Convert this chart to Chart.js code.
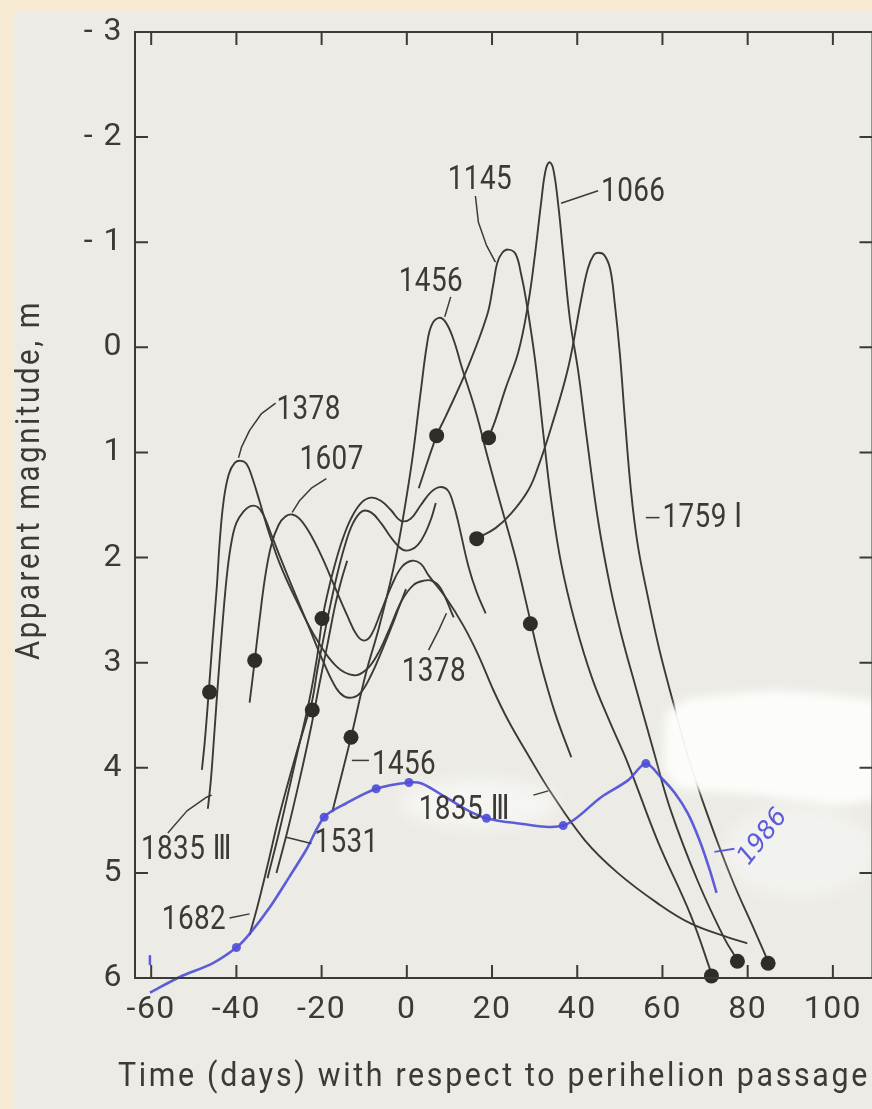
<!DOCTYPE html>
<html>
<head>
<meta charset="utf-8">
<script src="https://cdn.jsdelivr.net/npm/chart.js@4.4.1/dist/chart.umd.min.js"></script>
<style>
html, body { margin: 0; padding: 0; overflow: hidden; background: #f6ebd2; }
#paper { position: absolute; left: 14px; top: 12px; width: 880px; height: 1110px; background: #ecebe5; }
#wrap { position: absolute; left: 0; top: 0; width: 880px; height: 1109px; }
</style>
</head>
<body>
<div id="paper"></div>
<div id="wrap"><canvas id="myChart" width="880" height="1109"></canvas></div>
<script>
// days from perihelion, apparent magnitude
var xTicks = [-60, -40, -20, 0, 20, 40, 60, 80, 100];
var yTicks = [-3, -2, -1, 0, 1, 2, 3, 4, 5, 6];
var yTickLabels = ['- 3', '- 2', '- 1', '0', '1', '2', '3', '4', '5', '6'];

var curve1066 = [[19.2,0.86],[20.8,0.69],[23.1,0.40],[26.2,0.04],[28.5,-0.42],[30.1,-0.89],[31.5,-1.37],[32.5,-1.67],[33.4,-1.76],[34.3,-1.71],[35.5,-1.37],[36.7,-0.89],[38.3,-0.26],[40.2,0.22],[42.1,0.82],[44.9,1.65],[47.9,2.31],[50.7,2.79],[53.5,3.20],[58.2,3.88],[61.9,4.40],[68.2,5.07],[74.5,5.62],[77.6,5.83]];
var curve1145 = [[2.8,1.34],[7.0,0.84],[9.1,0.66],[14.0,0.22],[18.8,-0.30],[20.3,-0.60],[21.2,-0.80],[22.4,-0.90],[23.8,-0.93],[25.5,-0.89],[26.8,-0.70],[28.0,-0.45],[30.1,0.12],[32.2,0.88],[33.9,1.46],[36.2,2.05],[39.5,2.62],[43.5,3.15],[47.5,3.55],[51.9,3.96],[58.9,4.70],[66.6,5.40],[71.7,5.98]];
var curve1759 = [[16.4,1.82],[20.8,1.72],[24.5,1.58],[28.5,1.36],[30.8,1.14],[33.9,0.76],[37.9,0.19],[40.9,-0.45],[42.5,-0.75],[43.9,-0.88],[44.9,-0.90],[46.3,-0.88],[47.7,-0.75],[48.8,-0.42],[50.0,0.06],[51.2,0.69],[52.6,1.36],[54.2,1.88],[56.5,2.36],[59.3,2.88],[62.4,3.36],[65.9,3.88],[70.6,4.45],[76.4,5.07],[81.1,5.50],[85.0,5.86]];
var curve1456 = [[-17.5,4.42],[-13.1,3.71],[-9.6,3.10],[-6.5,2.66],[-2.6,2.00],[0.9,1.17],[3.3,0.41],[4.7,-0.02],[5.8,-0.21],[7.5,-0.28],[9.1,-0.24],[11.0,-0.07],[12.9,0.19],[16.1,0.60],[19.2,1.08],[22.2,1.52],[25.5,2.00],[29.0,2.60],[31.5,3.02],[34.8,3.48],[38.6,3.90]];
var curve1378 = [[-48.1,4.02],[-47.4,3.74],[-46.5,3.28],[-45.6,2.79],[-44.6,2.28],[-43.9,1.84],[-43.0,1.46],[-41.8,1.21],[-40.4,1.10],[-39.0,1.08],[-37.6,1.11],[-36.2,1.25],[-34.6,1.46],[-32.7,1.72],[-29.9,2.05],[-25.9,2.41],[-21.0,2.79],[-16.4,3.04],[-12.4,3.12],[-9.6,3.07],[-7.0,2.93],[-4.2,2.69],[-1.2,2.41],[1.6,2.26],[4.0,2.22],[5.8,2.22],[7.9,2.29],[11.0,2.57]];
var curve1835 = [[-46.7,4.39],[-46.0,4.12],[-45.3,3.74],[-44.4,3.23],[-43.2,2.60],[-42.1,2.12],[-41.1,1.84],[-40.0,1.67],[-38.3,1.56],[-36.7,1.51],[-35.0,1.52],[-33.6,1.60],[-32.2,1.74],[-29.9,1.98],[-27.1,2.26],[-22.9,2.67],[-19.4,3.01],[-16.6,3.24],[-14.7,3.32],[-12.6,3.33],[-10.7,3.28],[-8.4,3.12],[-5.8,2.88],[-3.5,2.65],[-1.9,2.48],[-0.2,2.30]];
var curve1607 = [[-36.9,3.38],[-35.7,2.98],[-34.6,2.60],[-33.2,2.17],[-31.8,1.88],[-30.1,1.69],[-28.5,1.61],[-26.9,1.59],[-25.2,1.63],[-22.9,1.76],[-20.1,1.98],[-17.1,2.26],[-14.0,2.55],[-11.7,2.74],[-10.0,2.79],[-8.4,2.74],[-6.1,2.52],[-3.5,2.26],[-1.2,2.09],[1.2,2.03],[3.3,2.06],[5.1,2.17],[9.3,2.39],[13.3,2.65],[16.8,2.93],[20.3,3.26],[23.8,3.55],[28.5,3.88],[33.9,4.24],[41.8,4.69],[49.5,5.00],[58.9,5.29],[66.6,5.48],[75.9,5.62],[79.9,5.67]];
var curve1531 = [[-32.7,5.05],[-29.9,4.60],[-26.4,3.98],[-22.9,3.36],[-21.0,2.93],[-19.9,2.60],[-18.7,2.36],[-17.1,2.10],[-15.2,1.84],[-13.1,1.63],[-10.7,1.48],[-8.4,1.43],[-6.1,1.46],[-3.7,1.55],[-1.4,1.65],[0.9,1.63],[3.3,1.50],[5.6,1.38],[7.7,1.33],[9.6,1.36],[11.0,1.50],[12.1,1.67],[14.5,2.09],[16.4,2.33],[18.5,2.53]];
var curve1531b = [[-30.6,5.00],[-28.0,4.60],[-25.2,4.12],[-22.4,3.60],[-20.6,3.22],[-18.7,2.84],[-16.8,2.45],[-15.4,2.22],[-14.0,2.03]];
var curve1682 = [[-36.9,5.59],[-35.0,5.31],[-32.7,4.93],[-29.9,4.45],[-26.4,3.93],[-23.6,3.55],[-22.2,3.36],[-21.0,3.07],[-19.9,2.84],[-18.2,2.50],[-16.4,2.17],[-14.5,1.88],[-12.6,1.67],[-10.5,1.56],[-8.4,1.57],[-6.1,1.67],[-3.5,1.82],[-1.2,1.92],[0.7,1.93],[2.6,1.88],[4.4,1.76],[5.8,1.62],[6.8,1.48]];
var curve1986 = [[-60.3,6.14],[-53.3,5.99],[-45.6,5.86],[-40.0,5.71],[-36.9,5.58],[-32.2,5.33],[-27.6,5.04],[-23.6,4.78],[-19.4,4.47],[-14.3,4.34],[-7.2,4.20],[0.5,4.14],[3.5,4.15],[9.1,4.28],[14.5,4.41],[18.7,4.48],[24.5,4.52],[36.7,4.55],[45.6,4.28],[51.9,4.12],[56.1,3.96],[59.6,4.09],[62.9,4.24],[65.9,4.43],[68.7,4.69],[71.0,4.96],[72.7,5.19]];

var dots = [[-46.3,3.28],[-35.7,2.98],[-19.9,2.58],[-22.2,3.45],[-13.1,3.71],[7.0,0.84],[19.2,0.86],[16.4,1.82],[29.0,2.63],[71.5,5.98],[77.6,5.84],[84.8,5.86]];
var dots1986 = [[-60.3,6.14],[-40.0,5.71],[-19.4,4.47],[-7.2,4.20],[0.5,4.14],[18.7,4.48],[36.7,4.55],[56.1,3.96]];
var mark1986 = [[-60.3,5.83]];

// curve names written on the figure, anchored in data units
var notes = [
    {text: '1145', day: 9.6, mag: -1.59},
    {text: '1066', day: 45.6, mag: -1.47},
    {text: '1456', day: -1.9, mag: -0.62},
    {text: '1378', day: -30.6, mag: 0.60},
    {text: '1607', day: -25.2, mag: 1.08},
    {text: '1378', day: -1.2, mag: 3.09},
    {text: '1759 Ⅰ', day: 60.0, mag: 1.63},
    {text: '1835 Ⅲ', day: -62.4, mag: 4.79},
    {text: '1531', day: -21.7, mag: 4.72},
    {text: '1682', day: -57.5, mag: 5.45},
    {text: '1456', day: -8.2, mag: 3.98},
    {text: '1835 Ⅲ', day: 2.8, mag: 4.41}
];
var leaders = [
    [[16.1,-1.44],[16.8,-1.19],[18.7,-0.97],[20.8,-0.81]],
    [[36.2,-1.37],[44.9,-1.49]],
    [[10.3,-0.48],[8.9,-0.29]],
    [[-30.8,0.53],[-34.1,0.63],[-36.9,0.79],[-38.8,0.95],[-39.5,1.05]],
    [[-18.9,1.25],[-22.4,1.34],[-25.2,1.46],[-26.9,1.57]],
    [[5.1,2.88],[7.5,2.69],[9.3,2.53]],
    [[56.1,1.62],[59.3,1.62]],
    [[-56.1,4.62],[-51.6,4.41],[-47.0,4.28],[-45.8,4.26]],
    [[-28.3,4.66],[-22.4,4.72]],
    [[-41.6,5.43],[-36.9,5.39]],
    [[-12.9,3.93],[-8.9,3.93]],
    [[29.7,4.26],[33.2,4.22]]
];
var blueLeader = [[72.2,4.80],[76.9,4.77]];

// white correction fluid on the scan
var whiteOut = [[60.7,3.47],[65.9,3.34],[75.2,3.30],[86.9,3.26],[98.6,3.30],[110.3,3.36],[110.3,4.31],[100.9,4.36],[91.6,4.31],[82.2,4.26],[72.9,4.23],[63.6,4.20],[60.3,4.02]];
var smudges = [
    {day: 92.0, mag: 4.80, dw: 18.0, dm: 0.45, a: 0.35},
    {day: 16.8, mag: 4.34, dw: 18.7, dm: 0.24, a: 0.5}
];

var ink = '#3b3a36';
var blue = 'rgba(78,76,214,0.9)';
var fam = "Roboto, 'DejaVu Sans', sans-serif";

function xy(pts) {
    return pts.map(function (p) { return {x: p[0], y: p[1]}; });
}

function blackCurve(name, pts) {
    return {label: name, data: xy(pts), showLine: true, borderColor: ink, borderWidth: 1.9,
        pointRadius: 0, tension: 0.4, order: 5};
}

// narrow lettering: squeeze text horizontally to the stencil look of the figure
function letter(ctx, str, px, py, size, sx, spacing) {
    ctx.save();
    ctx.font = size + 'px ' + fam;
    ctx.letterSpacing = spacing + 'px';
    ctx.textAlign = 'left';
    ctx.textBaseline = 'middle';
    ctx.translate(px, py);
    ctx.scale(sx, 1);
    ctx.fillText(str, 0, 0);
    ctx.restore();
}

function fitLetter(ctx, str, px, py, size, spacing, len, angle) {
    ctx.save();
    ctx.font = size + 'px ' + fam;
    ctx.letterSpacing = spacing + 'px';
    var sx = len / ctx.measureText(str).width;
    ctx.textAlign = 'left';
    ctx.textBaseline = 'middle';
    ctx.translate(px, py);
    ctx.rotate(angle);
    ctx.scale(sx, 1);
    ctx.fillText(str, 0, 0);
    ctx.restore();
}

var scanPlugin = {
    id: 'scan',
    beforeUpdate: function (chart) { chart.ctx.letterSpacing = '1.5px'; },
    beforeDraw: function (chart) { chart.ctx.letterSpacing = '1.5px'; },
    beforeDatasetDraw: function (chart, args) {
        if (chart.data.datasets[args.index].label !== '1986') return;
        var ctx = chart.ctx, x = chart.scales.x, y = chart.scales.y;
        ctx.save();
        ctx.filter = 'blur(8px)';
        smudges.forEach(function (e) {
            var cx = x.getPixelForValue(e.day), cy = y.getPixelForValue(e.mag);
            var rx = Math.abs(x.getPixelForValue(e.day + e.dw) - cx);
            var ry = Math.abs(y.getPixelForValue(e.mag + e.dm) - cy);
            ctx.fillStyle = 'rgba(255,255,255,' + e.a + ')';
            ctx.beginPath();
            ctx.ellipse(cx, cy, rx, ry, 0, 0, Math.PI * 2);
            ctx.fill();
        });
        ctx.filter = 'blur(5px)';
        ctx.fillStyle = 'rgba(253,253,251,0.95)';
        ctx.beginPath();
        whiteOut.forEach(function (p, i) {
            var px = x.getPixelForValue(p[0]), py = y.getPixelForValue(p[1]);
            if (i === 0) ctx.moveTo(px, py); else ctx.lineTo(px, py);
        });
        ctx.closePath();
        ctx.fill();
        ctx.restore();
    },
    afterDatasetsDraw: function (chart) {
        var ctx = chart.ctx, x = chart.scales.x, y = chart.scales.y, a = chart.chartArea;
        ctx.save();
        ctx.strokeStyle = ink;
        ctx.lineWidth = 2;
        ctx.strokeRect(a.left, a.top, a.right - a.left, a.bottom - a.top);
        // inward ticks on all four sides
        ctx.beginPath();
        yTicks.forEach(function (v) {
            var p = y.getPixelForValue(v);
            ctx.moveTo(a.left, p); ctx.lineTo(a.left + 13, p);
            ctx.moveTo(a.right - 13, p); ctx.lineTo(a.right, p);
        });
        xTicks.forEach(function (v) {
            var p = x.getPixelForValue(v);
            ctx.moveTo(p, a.top); ctx.lineTo(p, a.top + 13);
            ctx.moveTo(p, a.bottom - 13); ctx.lineTo(p, a.bottom);
        });
        ctx.stroke();

        ctx.lineWidth = 1.5;
        ctx.lineJoin = 'round';
        leaders.forEach(function (l) {
            ctx.beginPath();
            l.forEach(function (p, i) {
                var px = x.getPixelForValue(p[0]), py = y.getPixelForValue(p[1]);
                if (i === 0) ctx.moveTo(px, py); else ctx.lineTo(px, py);
            });
            ctx.stroke();
        });

        ctx.fillStyle = ink;
        notes.forEach(function (n) {
            letter(ctx, n.text, x.getPixelForValue(n.day), y.getPixelForValue(n.mag), 34, 0.82, 0.5);
        });

        fitLetter(ctx, 'Time (days) with respect to perihelion passage', 118, 1077, 34, 3, 752, 0);
        fitLetter(ctx, 'Apparent magnitude, m', 31, 660, 33, 3, 360, -Math.PI / 2);

        // pen annotation for the 1986 apparition
        ctx.strokeStyle = blue;
        ctx.lineWidth = 2;
        ctx.beginPath();
        ctx.moveTo(x.getPixelForValue(blueLeader[0][0]), y.getPixelForValue(blueLeader[0][1]));
        ctx.lineTo(x.getPixelForValue(blueLeader[1][0]), y.getPixelForValue(blueLeader[1][1]));
        ctx.stroke();
        ctx.fillStyle = blue;
        ctx.letterSpacing = '0px';
        ctx.font = 'italic 25px "DejaVu Sans"';
        ctx.translate(x.getPixelForValue(83.6), y.getPixelForValue(4.66));
        ctx.rotate(-52 * Math.PI / 180);
        ctx.textAlign = 'center';
        ctx.textBaseline = 'middle';
        ctx.fillText('1986', 0, 0);
        ctx.restore();
    }
};

var ctx = document.getElementById('myChart').getContext('2d');
var myChart = new Chart(ctx, {
    type: 'scatter',
    data: {
        datasets: [
            {label: '1986', data: xy(curve1986), showLine: true, borderColor: blue, borderWidth: 2.6,
                pointRadius: 0, tension: 0.3, clip: false, order: 2},
            {label: '1986 points', data: xy(dots1986), pointRadius: 4.5, pointBackgroundColor: blue,
                pointBorderWidth: 0, clip: false, order: 1},
            {label: '1986 mark', data: xy(mark1986), pointStyle: 'line', rotation: 90, pointRadius: 5,
                pointBorderColor: blue, pointBorderWidth: 2.5, clip: false, order: 1},
            {label: 'observations', data: xy(dots), pointRadius: 7.5, pointBackgroundColor: '#2f2d2a',
                pointBorderWidth: 0, clip: false, order: 4},
            blackCurve('1066', curve1066),
            blackCurve('1145', curve1145),
            blackCurve('1759 I', curve1759),
            blackCurve('1456', curve1456),
            blackCurve('1378', curve1378),
            blackCurve('1835 III', curve1835),
            blackCurve('1607', curve1607),
            blackCurve('1531', curve1531),
            blackCurve('1531b', curve1531b),
            blackCurve('1682', curve1682)
        ]
    },
    options: {
        responsive: false,
        animation: false,
        events: [],
        layout: {padding: {top: 32, right: 4, left: 0, bottom: 0}},
        plugins: {legend: {display: false}, tooltip: {enabled: false}},
        scales: {
            x: {
                type: 'linear', min: -63.8, max: 109.3,
                afterBuildTicks: function (s) { s.ticks = xTicks.map(function (v) { return {value: v}; }); },
                afterFit: function (s) { s.height = 131; },
                grid: {display: false}, border: {display: false},
                ticks: {color: ink, padding: 5, autoSkip: false, maxRotation: 0,
                    font: {family: fam, size: 32, lineHeight: 1.2},
                    callback: function (v) { return String(v); }}
            },
            y: {
                type: 'linear', reverse: true, min: -3, max: 6,
                afterBuildTicks: function (s) { s.ticks = yTicks.map(function (v) { return {value: v}; }); },
                afterFit: function (s) { s.width = 135; },
                grid: {display: false}, border: {display: false},
                ticks: {color: ink, padding: 4, font: {family: fam, size: 32, lineHeight: 1.2},
                    callback: function (v, i) { return yTickLabels[i]; }}
            }
        }
    },
    plugins: [scanPlugin]
});
</script>
</body>
</html>
